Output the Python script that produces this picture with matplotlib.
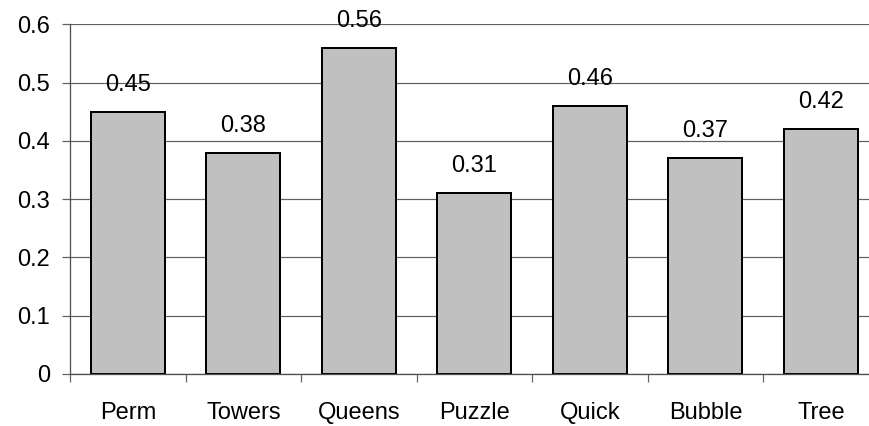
import matplotlib
matplotlib.use("Agg")
import matplotlib.pyplot as plt
import numpy as np

categories = ["Perm", "Towers", "Queens", "Puzzle", "Quick", "Bubble", "Tree"]
values = [0.45, 0.38, 0.56, 0.31, 0.46, 0.37, 0.42]
y_ticks = [0, 0.1, 0.2, 0.3, 0.4, 0.5, 0.6]
y_tick_labels = ["0", "0.1", "0.2", "0.3", "0.4", "0.5", "0.6"]

plt.rcParams["font.family"] = ["Liberation Sans", "DejaVu Sans"]
FS = 17
DPI = 100
px = 72.0 / DPI

fig = plt.figure(figsize=(8.7, 4.26), dpi=DPI)
W, H = 870.0, 426.0
ax = fig.add_axes([70.2 / W, 52.0 / H, 808.5 / W, 349.7 / H])

x = np.arange(len(categories))
ax.bar(x, values, width=0.64, color="#C0C0C0", edgecolor="black",
       linewidth=2 * px, zorder=3)

for xi, v in zip(x, values):
    ax.annotate(f"{v:.2f}", (xi, v), xytext=(0, 21 * px),
                textcoords="offset points", ha="center", va="baseline",
                fontsize=FS, zorder=4)

ax.set_xlim(-0.5, len(categories) - 0.5)
ax.set_ylim(0, 0.6)

ax.set_yticks(y_ticks)
ax.set_yticklabels(y_tick_labels, fontsize=FS)
ax.yaxis.grid(True, color="#606060", linewidth=1.2 * px, zorder=0)
ax.set_axisbelow(True)

ax.set_xticks(x)
ax.set_xticklabels(categories, fontsize=FS)
ax.set_xticks(np.arange(-0.5, len(categories)), minor=True)
ax.tick_params(axis="x", which="major", length=0, pad=28 * px)
ax.tick_params(axis="x", which="minor", length=8 * px, width=1.2 * px,
               color="#606060", direction="out")
ax.tick_params(axis="y", which="major", length=8 * px, width=1.2 * px,
               color="#606060", direction="out", pad=12 * px)

for s in ["top", "right"]:
    ax.spines[s].set_visible(False)
for s in ["left", "bottom"]:
    ax.spines[s].set_color("#505050")
    ax.spines[s].set_linewidth(1.3 * px)
ax.spines["bottom"].set_zorder(5)

fig.savefig("out.png", dpi=DPI)
